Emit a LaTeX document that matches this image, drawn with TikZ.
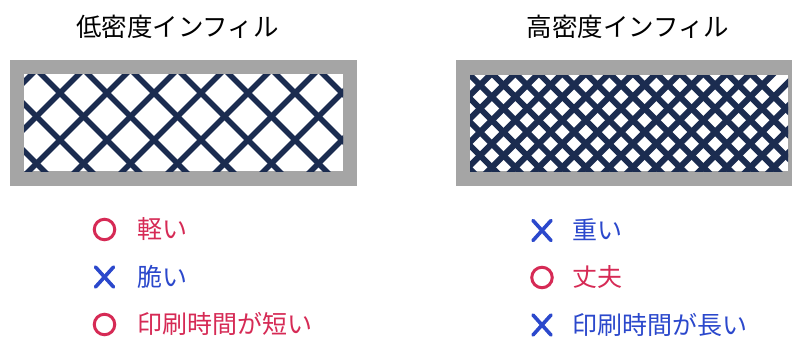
\documentclass[tikz,border=0pt]{standalone}
\usepackage{fontspec}
\newfontfamily\jp{Noto Sans CJK JP}
\definecolor{navy}{HTML}{1B2C50}
\definecolor{frame}{HTML}{A5A5A5}
\definecolor{goodred}{HTML}{D62A55}
\definecolor{badblue}{HTML}{2B48CC}
\tikzset{
  title/.style={font=\jp\fontsize{25.5}{30}\selectfont, text=black, anchor=base},
  item/.style={font=\jp\fontsize{25}{30}\selectfont, anchor=base west, inner sep=0pt},
  good/.style={item, text=goodred},
  bad/.style={item, text=badblue},
  okmark/.style={draw=goodred, line width=3pt, circle, minimum size=20.5pt, inner sep=0pt},
  ngmark/.style={draw=badblue, line width=3.6pt, line cap=round},
  lat/.style={draw=navy},
}
\begin{document}
\begin{tikzpicture}[x=1pt,y=-1pt]
\useasboundingbox (0,0) rectangle (792,340);
\fill[white] (0,0) rectangle (792,340);
% titles
\node[title] (t1) at (177.5,36) {低密度インフィル};
\node[title] (t2) at (628,36) {高密度インフィル};
% left panel
\fill[frame] (9.5,59.5) rectangle (357,186);
\fill[white] (24,74) rectangle (343,171);
\begin{scope}
\clip (24,74) rectangle (343,171);
\foreach \k in {-4,...,8}{
  \pgfmathsetmacro{\c}{-33+47*\k}
  \draw[lat, line width=5.5pt] (-100,-100-\c) -- (600,600-\c);
}
\foreach \k in {-3,...,9}{
  \pgfmathsetmacro{\c}{153+47*\k}
  \draw[lat, line width=5.5pt] (-100,\c+100) -- (600,\c-600);
}
\end{scope}
% right panel
\fill[frame] (455.5,59.5) rectangle (792,186);
\fill[white] (470,75) rectangle (788,171);
\begin{scope}
\clip (470,75) rectangle (788,171);
\foreach \k in {-10,...,12}{
  \pgfmathsetmacro{\c}{395+23.5*\k}
  \draw[lat, line width=6pt] (300,300-\c) -- (1000,1000-\c);
}
\foreach \k in {-10,...,16}{
  \pgfmathsetmacro{\c}{565+23.5*\k}
  \draw[lat, line width=6pt] (300,\c-300) -- (1000,\c-1000);
}
\end{scope}
% left list
\node[okmark] (m1) at (104.5,229.5) {};
\coordinate (x2) at (104.5,277);
\draw[ngmark] ([shift={(-9,-10)}]x2) -- ([shift={(9,10)}]x2);
\draw[ngmark] ([shift={(-9,10)}]x2) -- ([shift={(9,-10)}]x2);
\node[okmark] (m3) at (104.5,324.5) {};
\node[good] (l1) at (137,238.5) {軽い};
\node[bad]  (l2) at (137,286) {脆い};
\node[good] (l3) at (137,333.5) {印刷時間が短い};
% right list
\coordinate (y1) at (542,230.5);
\draw[ngmark] ([shift={(-9,-10)}]y1) -- ([shift={(9,10)}]y1);
\draw[ngmark] ([shift={(-9,10)}]y1) -- ([shift={(9,-10)}]y1);
\node[okmark] (r2) at (542,277.5) {};
\coordinate (y3) at (542,325);
\draw[ngmark] ([shift={(-9,-10)}]y3) -- ([shift={(9,10)}]y3);
\draw[ngmark] ([shift={(-9,10)}]y3) -- ([shift={(9,-10)}]y3);
\node[bad]  (s1) at (572,239.5) {重い};
\node[good] (s2) at (572,286.5) {丈夫};
\node[bad]  (s3) at (572,334) {印刷時間が長い};
\end{tikzpicture}
\end{document}
